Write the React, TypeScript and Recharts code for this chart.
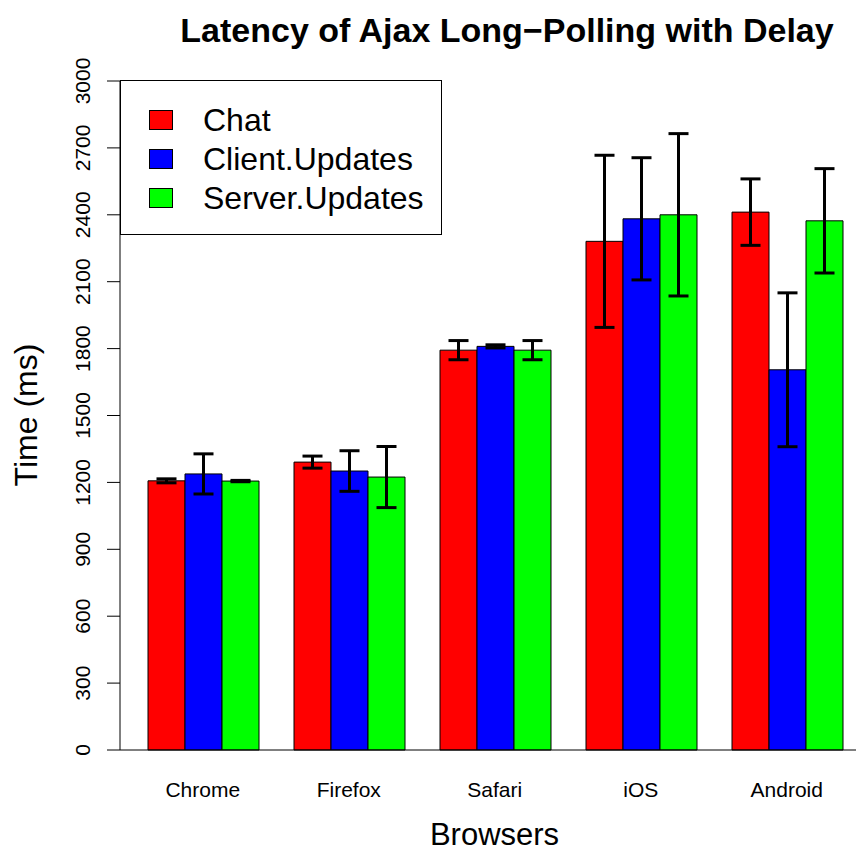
import React from 'react';
import { BarChart, Bar, XAxis, YAxis, ErrorBar, Legend, Label } from 'recharts';

const FONT = '"Liberation Sans", Arial, Helvetica, sans-serif';

// mean latency per browser (ms) and the spread shown by the error bars
const browsers = ['Chrome', 'Firefox', 'Safari', 'iOS', 'Android'];
const chat = [1207, 1291, 1793, 2281, 2412];
const chatSd = [9, 27, 43, 386, 149];
const clientUpdates = [1238, 1251, 1810, 2382, 1705];
const clientSd = [90, 91, 7, 274, 345];
const serverUpdates = [1206, 1224, 1793, 2400, 2373];
const serverSd = [3, 137, 43, 364, 234];
const yTicks = [0, 300, 600, 900, 1200, 1500, 1800, 2100, 2400, 2700, 3000];

const data = browsers.map((browser, i) => ({
  browser,
  chat: chat[i],
  chatSd: chatSd[i],
  client: clientUpdates[i],
  clientSd: clientSd[i],
  server: serverUpdates[i],
  serverSd: serverSd[i],
}));

const YTick = ({ x, y, payload }: any) => (
  <text
    x={x}
    y={y}
    transform={`rotate(-90 ${x} ${y})`}
    textAnchor="middle"
    fontSize={21}
    fontFamily={FONT}
    fill="#000"
  >
    {payload.value}
  </text>
);

const LegendBox = ({ payload }: any) => (
  <div
    style={{
      width: 322,
      height: 155,
      border: '1px solid #000',
      boxSizing: 'border-box',
      background: '#fff',
      position: 'relative',
      fontFamily: FONT,
    }}
  >
    {(payload ?? []).map((p: any, i: number) => (
      <div key={p.value} style={{ position: 'absolute', left: 0, top: 19 + 39 * i, height: 40, width: 320 }}>
        <span
          style={{
            position: 'absolute',
            left: 28,
            top: 10,
            width: 24,
            height: 20,
            background: p.color,
            border: '1px solid #000',
            boxSizing: 'border-box',
          }}
        />
        <span
          style={{
            position: 'absolute',
            left: 82,
            top: 0,
            fontSize: 32,
            lineHeight: '40px',
            color: '#000',
            whiteSpace: 'nowrap',
          }}
        >
          {p.value}
        </span>
      </div>
    ))}
  </div>
);

export default function App() {
  return (
    <div style={{ position: 'absolute', left: 0, top: 0, width: 856, height: 852, overflow: 'hidden', background: '#fff' }}>
      <BarChart
        width={870}
        height={852}
        data={data}
        margin={{ top: 81, right: 10.25, bottom: 2, left: 0 }}
        barCategoryGap={18.25}
        barGap={0}
      >
        <XAxis
          dataKey="browser"
          height={100}
          padding={{ left: 9.75, right: 0 }}
          axisLine={{ stroke: '#000', strokeWidth: 1 }}
          tickLine={false}
          tickSize={0}
          tickMargin={32}
          tick={{ fontSize: 21, fontFamily: FONT, fill: '#000' }}
        >
          <Label
            content={() => (
              <text x={494.5} y={845} textAnchor="middle" fontSize={31} fontFamily={FONT} fill="#000">
                Browsers
              </text>
            )}
          />
        </XAxis>
        <YAxis
          width={120}
          domain={[0, 3000]}
          ticks={yTicks}
          interval={0}
          axisLine={{ stroke: '#000', strokeWidth: 1 }}
          tickLine={{ stroke: '#000', strokeWidth: 1 }}
          tickSize={13}
          tickMargin={17}
          tick={<YTick />}
        >
          <Label
            content={() => (
              <text
                x={37}
                y={415}
                transform="rotate(-90 37 415)"
                textAnchor="middle"
                fontSize={32}
                fontFamily={FONT}
                fill="#000"
              >
                Time (ms)
              </text>
            )}
          />
        </YAxis>
        <Legend
          layout="vertical"
          align="center"
          verticalAlign="middle"
          content={<LegendBox />}
          wrapperStyle={{ position: 'absolute', left: 120, top: 80, width: 322, height: 155 }}
        />
        <Bar dataKey="chat" name="Chat" fill="#ff0000" stroke="#000" strokeWidth={1} isAnimationActive={false}>
          <ErrorBar dataKey="chatSd" width={10} strokeWidth={3} stroke="#000" direction="y" />
        </Bar>
        <Bar dataKey="client" name="Client.Updates" fill="#0000ff" stroke="#000" strokeWidth={1} isAnimationActive={false}>
          <ErrorBar dataKey="clientSd" width={10} strokeWidth={3} stroke="#000" direction="y" />
        </Bar>
        <Bar dataKey="server" name="Server.Updates" fill="#00ff00" stroke="#000" strokeWidth={1} isAnimationActive={false}>
          <ErrorBar dataKey="serverSd" width={10} strokeWidth={3} stroke="#000" direction="y" />
        </Bar>
      </BarChart>
      <svg width={856} height={60} style={{ position: 'absolute', left: 0, top: 0, pointerEvents: 'none' }}>
        <text x={507} y={42} textAnchor="middle" fontSize={34} fontWeight="bold" fontFamily={FONT} fill="#000">
          Latency of Ajax Long−Polling with Delay
        </text>
      </svg>
    </div>
  );
}
